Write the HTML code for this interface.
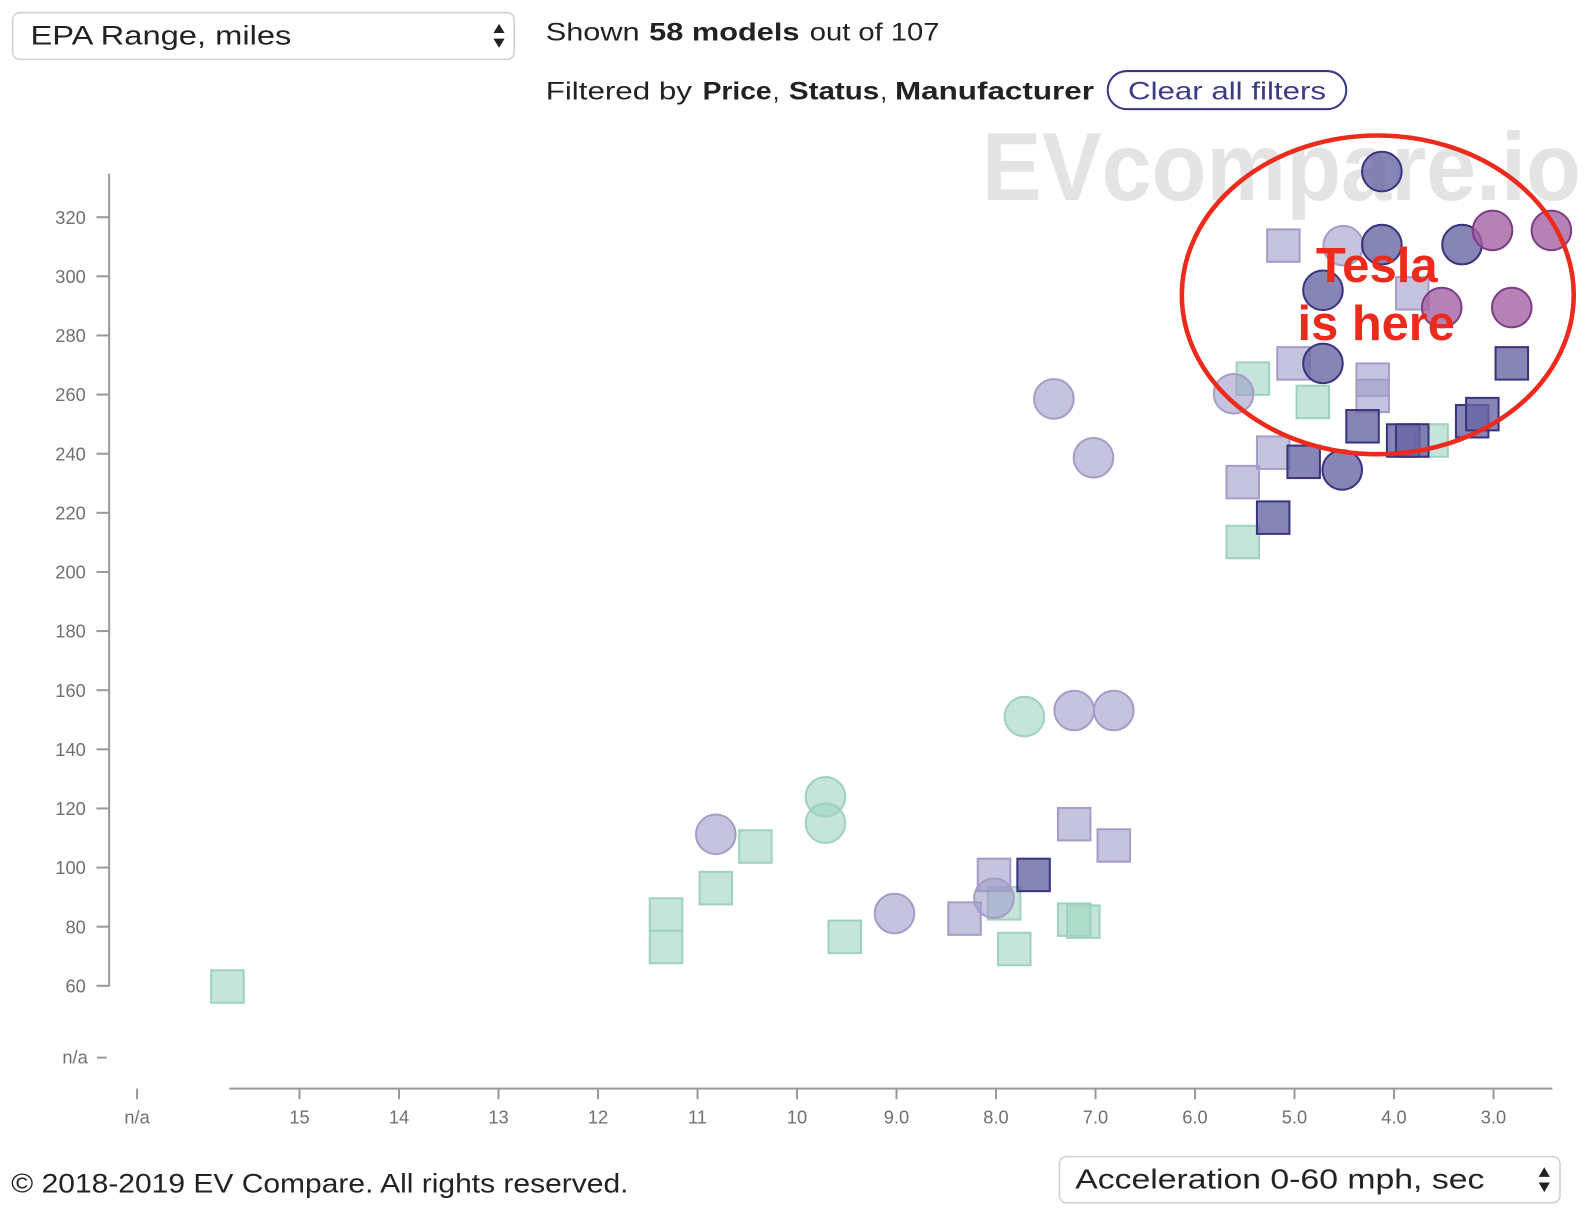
<!DOCTYPE html>
<html>
<head>
<meta charset="utf-8">
<style>
  html,body{margin:0;padding:0;background:#fff;}
  svg{display:block;}
  .t{font-family:"Liberation Sans",sans-serif;fill:#222;}
  .b{font-weight:bold;}
  .ax{font-family:"Liberation Sans",sans-serif;font-size:18px;fill:#707070;}
  .g{fill:rgb(160,212,193);fill-opacity:.6;stroke:#9fd2be;stroke-width:2;}
  .l{fill:rgb(160,155,200);fill-opacity:.6;stroke:#a39ec8;stroke-width:2;}
  .i{fill:rgb(105,101,164);fill-opacity:.8;stroke:#3a357f;stroke-width:2;}
  .m{fill:rgb(164,97,162);fill-opacity:.8;stroke:#7e3d88;stroke-width:2;}
</style>
</head>
<body>
<svg width="1592" height="1218" viewBox="0 0 1568 1200" preserveAspectRatio="none" xmlns="http://www.w3.org/2000/svg">
  <rect x="0" y="0" width="1568" height="1200" fill="#fff"/>

  <!-- watermark -->
  <text x="967" y="197" font-family="Liberation Sans, sans-serif" font-weight="bold" font-size="95" fill="#e4e4e4" textLength="590" lengthAdjust="spacingAndGlyphs">EVcompare.io</text>

  <!-- top select -->
  <rect x="12.5" y="12.5" width="494" height="46" rx="7" fill="#fff" stroke="#cfcfcf" stroke-width="1.5"/>
  <text class="t" x="30" y="44" font-size="26" textLength="257" lengthAdjust="spacingAndGlyphs">EPA Range, miles</text>
  <polygon points="486,32.5 497,32.5 491.5,23.5" fill="#222"/>
  <polygon points="486,38 497,38 491.5,47" fill="#222"/>

  <!-- header lines -->
  <text class="t" x="537.5" y="40" font-size="24.5" textLength="92.5" lengthAdjust="spacingAndGlyphs">Shown</text>
  <text class="t b" x="639.4" y="40" font-size="24.5" textLength="148" lengthAdjust="spacingAndGlyphs">58 models</text>
  <text class="t" x="797.6" y="40" font-size="24.5" textLength="127.7" lengthAdjust="spacingAndGlyphs">out of 107</text>

  <text class="t" x="537.5" y="98" font-size="24.5" textLength="144" lengthAdjust="spacingAndGlyphs">Filtered by</text>
  <text class="t b" x="692" y="98" font-size="24.5" textLength="68" lengthAdjust="spacingAndGlyphs">Price</text>
  <text class="t" x="761" y="98" font-size="24.5">,</text>
  <text class="t b" x="777" y="98" font-size="24.5" textLength="89" lengthAdjust="spacingAndGlyphs">Status</text>
  <text class="t" x="867" y="98" font-size="24.5">,</text>
  <text class="t b" x="881.5" y="98" font-size="24.5" textLength="196" lengthAdjust="spacingAndGlyphs">Manufacturer</text>

  <rect x="1091" y="70" width="235" height="37.5" rx="18.75" fill="#fff" stroke="#3a3785" stroke-width="2"/>
  <text x="1111" y="98" font-family="Liberation Sans, sans-serif" font-size="24.5" fill="#3c3a87" textLength="195" lengthAdjust="spacingAndGlyphs">Clear all filters</text>

  <!-- Y axis -->
  <line x1="107.5" y1="171" x2="107.5" y2="972" stroke="#999" stroke-width="2"/>
  <g stroke="#999" stroke-width="2">
    <line x1="95" y1="214" x2="107.5" y2="214"/>
    <line x1="95" y1="272.25" x2="107.5" y2="272.25"/>
    <line x1="95" y1="330.5" x2="107.5" y2="330.5"/>
    <line x1="95" y1="388.75" x2="107.5" y2="388.75"/>
    <line x1="95" y1="447" x2="107.5" y2="447"/>
    <line x1="95" y1="505.25" x2="107.5" y2="505.25"/>
    <line x1="95" y1="563.5" x2="107.5" y2="563.5"/>
    <line x1="95" y1="621.75" x2="107.5" y2="621.75"/>
    <line x1="95" y1="680" x2="107.5" y2="680"/>
    <line x1="95" y1="738.25" x2="107.5" y2="738.25"/>
    <line x1="95" y1="796.5" x2="107.5" y2="796.5"/>
    <line x1="95" y1="854.75" x2="107.5" y2="854.75"/>
    <line x1="95" y1="913" x2="107.5" y2="913"/>
    <line x1="95" y1="971.25" x2="107.5" y2="971.25"/>
    <line x1="95.5" y1="1042" x2="105" y2="1042"/>
  </g>
  <g class="ax" text-anchor="end">
    <text x="84.5" y="220.5">320</text>
    <text x="84.5" y="278.75">300</text>
    <text x="84.5" y="337">280</text>
    <text x="84.5" y="395.25">260</text>
    <text x="84.5" y="453.5">240</text>
    <text x="84.5" y="511.75">220</text>
    <text x="84.5" y="570">200</text>
    <text x="84.5" y="628.25">180</text>
    <text x="84.5" y="686.5">160</text>
    <text x="84.5" y="744.75">140</text>
    <text x="84.5" y="803">120</text>
    <text x="84.5" y="861.25">100</text>
    <text x="84.5" y="919.5">80</text>
    <text x="84.5" y="977.75">60</text>
    <text x="86.5" y="1048">n/a</text>
  </g>

  <!-- X axis -->
  <line x1="226" y1="1072.5" x2="1529" y2="1072.5" stroke="#999" stroke-width="2"/>
  <g stroke="#999" stroke-width="2">
    <line x1="135" y1="1072.5" x2="135" y2="1083"/>
    <line x1="295" y1="1072.5" x2="295" y2="1083"/>
    <line x1="393" y1="1072.5" x2="393" y2="1083"/>
    <line x1="491" y1="1072.5" x2="491" y2="1083"/>
    <line x1="589" y1="1072.5" x2="589" y2="1083"/>
    <line x1="687" y1="1072.5" x2="687" y2="1083"/>
    <line x1="785" y1="1072.5" x2="785" y2="1083"/>
    <line x1="883" y1="1072.5" x2="883" y2="1083"/>
    <line x1="981" y1="1072.5" x2="981" y2="1083"/>
    <line x1="1079" y1="1072.5" x2="1079" y2="1083"/>
    <line x1="1177" y1="1072.5" x2="1177" y2="1083"/>
    <line x1="1275" y1="1072.5" x2="1275" y2="1083"/>
    <line x1="1373" y1="1072.5" x2="1373" y2="1083"/>
    <line x1="1471" y1="1072.5" x2="1471" y2="1083"/>
  </g>
  <g class="ax" text-anchor="middle">
    <text x="135" y="1107">n/a</text>
    <text x="295" y="1107">15</text>
    <text x="393" y="1107">14</text>
    <text x="491" y="1107">13</text>
    <text x="589" y="1107">12</text>
    <text x="687" y="1107">11</text>
    <text x="785" y="1107">10</text>
    <text x="883" y="1107">9.0</text>
    <text x="981" y="1107">8.0</text>
    <text x="1079" y="1107">7.0</text>
    <text x="1177" y="1107">6.0</text>
    <text x="1275" y="1107">5.0</text>
    <text x="1373" y="1107">4.0</text>
    <text x="1471" y="1107">3.0</text>
  </g>

  <!-- green squares -->
  <g class="g">
    <rect x="208" y="956" width="32" height="32"/>
    <rect x="728" y="818" width="32" height="32"/>
    <rect x="689" y="859" width="32" height="32"/>
    <rect x="640" y="885" width="32" height="32"/>
    <rect x="640" y="917" width="32" height="32"/>
    <rect x="816" y="907" width="32" height="32"/>
    <rect x="973" y="874" width="32" height="32"/>
    <rect x="983" y="919" width="32" height="32"/>
    <rect x="1042" y="890" width="32" height="32"/>
    <rect x="1051" y="892" width="32" height="32"/>
    <rect x="1218" y="357" width="32" height="32"/>
    <rect x="1277" y="380" width="32" height="32"/>
    <rect x="1208" y="518" width="32" height="32"/>
    <rect x="1394" y="418" width="32" height="32"/>
  </g>
  <!-- lavender squares -->
  <g class="l">
    <rect x="963" y="846" width="32" height="32"/>
    <rect x="1042" y="796" width="32" height="32"/>
    <rect x="1081" y="817" width="32" height="32"/>
    <rect x="934" y="889" width="32" height="32"/>
    <rect x="1248" y="226" width="32" height="32"/>
    <rect x="1375" y="273" width="32" height="32"/>
    <rect x="1258" y="342" width="32" height="32"/>
    <rect x="1336" y="358" width="32" height="32"/>
    <rect x="1336" y="374" width="32" height="32"/>
    <rect x="1238" y="430" width="32" height="32"/>
    <rect x="1208" y="459" width="32" height="32"/>
  </g>
  <!-- indigo squares -->
  <g class="i">
    <rect x="1002" y="846" width="32" height="32"/>
    <rect x="1473" y="342" width="32" height="32"/>
    <rect x="1326" y="404" width="32" height="32"/>
    <rect x="1366" y="418" width="32" height="32"/>
    <rect x="1375" y="418" width="32" height="32"/>
    <rect x="1434" y="399" width="32" height="32"/>
    <rect x="1444" y="392" width="32" height="32"/>
    <rect x="1268" y="439" width="32" height="32"/>
    <rect x="1238" y="494" width="32" height="32"/>
  </g>
  <!-- green circles -->
  <g class="g">
    <circle cx="1009" cy="706" r="19.5"/>
    <circle cx="813" cy="785" r="19.5"/>
    <circle cx="813" cy="811" r="19.5"/>
  </g>
  <!-- lavender circles -->
  <g class="l">
    <circle cx="1058" cy="700" r="19.5"/>
    <circle cx="1097" cy="700" r="19.5"/>
    <circle cx="705" cy="822" r="19.5"/>
    <circle cx="881" cy="900" r="19.5"/>
    <circle cx="979" cy="885" r="19.5"/>
    <circle cx="1038" cy="393" r="19.5"/>
    <circle cx="1077" cy="451" r="19.5"/>
    <circle cx="1215" cy="388" r="19.5"/>
    <circle cx="1323" cy="242" r="19.5"/>
  </g>
  <!-- indigo circles -->
  <g class="i">
    <circle cx="1361" cy="169" r="19.5"/>
    <circle cx="1361" cy="241" r="19.5"/>
    <circle cx="1440" cy="241" r="19.5"/>
    <circle cx="1303" cy="286" r="19.5"/>
    <circle cx="1303" cy="358" r="19.5"/>
    <circle cx="1322" cy="463" r="19.5"/>
  </g>
  <!-- magenta circles -->
  <g class="m">
    <circle cx="1470" cy="227" r="19.5"/>
    <circle cx="1528" cy="227" r="19.5"/>
    <circle cx="1420" cy="303" r="19.5"/>
    <circle cx="1489" cy="303" r="19.5"/>
  </g>

  <!-- annotation -->
  <ellipse cx="1357" cy="290.5" rx="193" ry="157" fill="none" stroke="#ee2a1d" stroke-width="4.5"/>
  <text x="1296" y="278" font-family="Liberation Sans, sans-serif" font-weight="bold" font-size="48" fill="#ee2a1d" textLength="120" lengthAdjust="spacingAndGlyphs">Tesla</text>
  <text x="1278" y="335" font-family="Liberation Sans, sans-serif" font-weight="bold" font-size="48" fill="#ee2a1d" textLength="155" lengthAdjust="spacingAndGlyphs">is here</text>

  <!-- footer -->
  <text class="t" x="11" y="1175" font-size="26" textLength="608" lengthAdjust="spacingAndGlyphs">© 2018-2019 EV Compare. All rights reserved.</text>

  <rect x="1043.5" y="1139.5" width="493" height="45.5" rx="7" fill="#fff" stroke="#cfcfcf" stroke-width="1.5"/>
  <text class="t" x="1059" y="1171" font-size="27" textLength="403" lengthAdjust="spacingAndGlyphs">Acceleration 0-60 mph, sec</text>
  <polygon points="1515.5,1159.5 1526.5,1159.5 1521,1150" fill="#222"/>
  <polygon points="1515.5,1165 1526.5,1165 1521,1174.5" fill="#222"/>
</svg>
</body>
</html>
